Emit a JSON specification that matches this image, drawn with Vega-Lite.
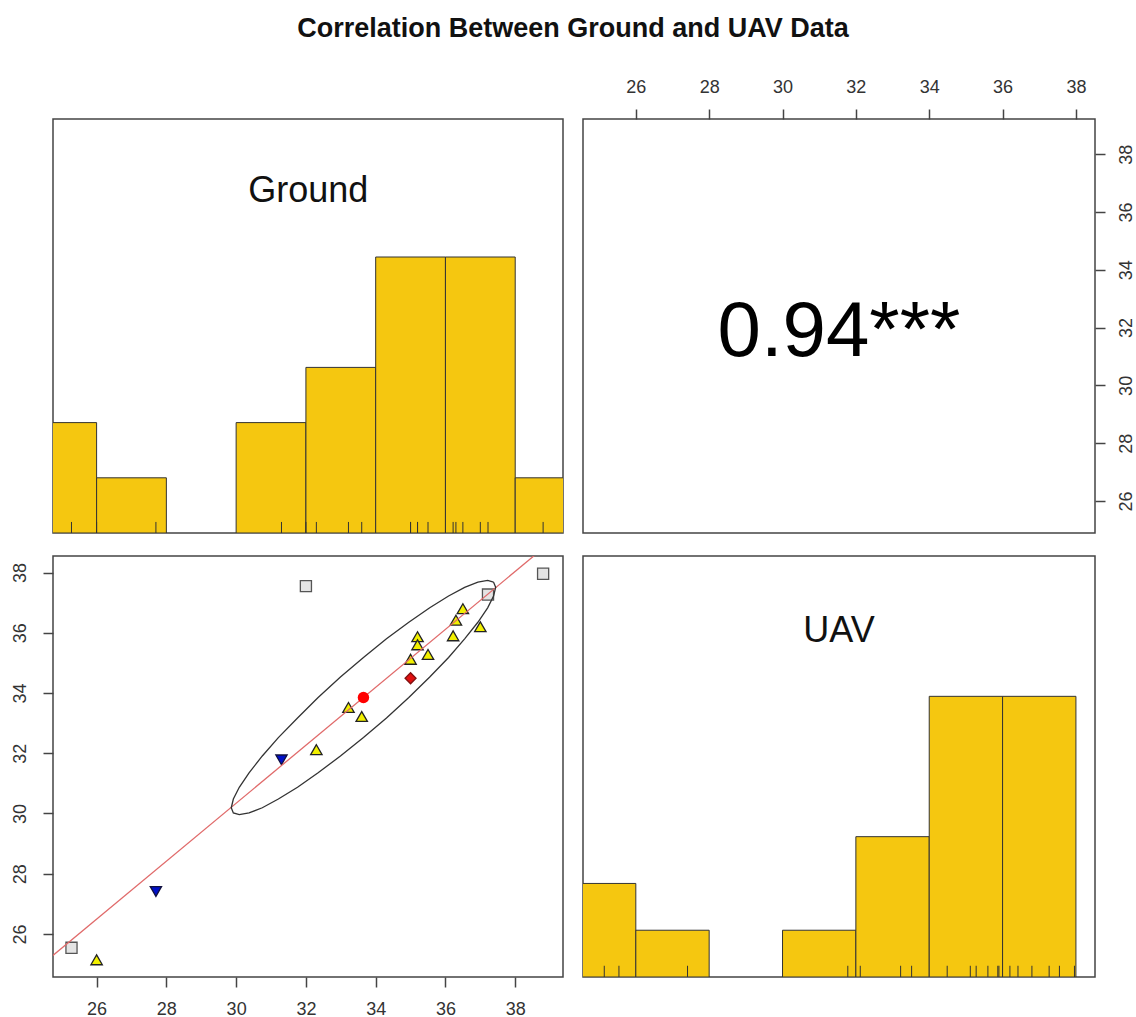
{
  "$schema": "https://vega.github.io/schema/vega-lite/v6.json",
  "background": "white",
  "padding": {"left": 10, "top": 15, "right": 2, "bottom": 2},
  "title": {"text": "Correlation Between Ground and UAV Data", "fontSize": 27, "fontWeight": "bold", "font": "Liberation Sans", "anchor": "middle", "color": "#111", "offset": 34},
  "datasets": {
    "pts": [
      {"Ground": 25.28, "UAV": 25.54, "grp": "sq"},
      {"Ground": 26.0, "UAV": 25.14, "grp": "tri"},
      {"Ground": 27.7, "UAV": 27.41, "grp": "down"},
      {"Ground": 32.0, "UAV": 37.55, "grp": "sq"},
      {"Ground": 38.8, "UAV": 37.96, "grp": "sq"},
      {"Ground": 37.22, "UAV": 37.27, "grp": "sq"},
      {"Ground": 31.3, "UAV": 31.78, "grp": "down"},
      {"Ground": 32.3, "UAV": 32.12, "grp": "tri"},
      {"Ground": 33.22, "UAV": 33.52, "grp": "tri"},
      {"Ground": 33.6, "UAV": 33.22, "grp": "tri"},
      {"Ground": 35.0, "UAV": 34.49, "grp": "dia"},
      {"Ground": 35.0, "UAV": 35.12, "grp": "tri"},
      {"Ground": 35.2, "UAV": 35.87, "grp": "tri"},
      {"Ground": 35.2, "UAV": 35.6, "grp": "tri"},
      {"Ground": 35.5, "UAV": 35.28, "grp": "tri"},
      {"Ground": 36.22, "UAV": 35.9, "grp": "tri"},
      {"Ground": 36.3, "UAV": 36.42, "grp": "tri"},
      {"Ground": 36.5, "UAV": 36.8, "grp": "tri"},
      {"Ground": 37.0, "UAV": 36.2, "grp": "tri"}
    ],
    "hg": [
      {"b0": 24, "b1": 26, "n": 2},
      {"b0": 26, "b1": 28, "n": 1},
      {"b0": 30, "b1": 32, "n": 2},
      {"b0": 32, "b1": 34, "n": 3},
      {"b0": 34, "b1": 36, "n": 5},
      {"b0": 36, "b1": 38, "n": 5},
      {"b0": 38, "b1": 40, "n": 1}
    ],
    "hu": [
      {"b0": 24, "b1": 26, "n": 2},
      {"b0": 26, "b1": 28, "n": 1},
      {"b0": 30, "b1": 32, "n": 1},
      {"b0": 32, "b1": 34, "n": 3},
      {"b0": 34, "b1": 36, "n": 6},
      {"b0": 36, "b1": 38, "n": 6}
    ],
    "ell": [
      {"i": 0, "ex": 37.38, "ey": 37.68}, {"i": 1, "ex": 37.21, "ey": 37.74}, {"i": 2, "ex": 36.93, "ey": 37.68},
      {"i": 3, "ex": 36.55, "ey": 37.51}, {"i": 4, "ex": 36.09, "ey": 37.22}, {"i": 5, "ex": 35.55, "ey": 36.83},
      {"i": 6, "ex": 34.95, "ey": 36.35}, {"i": 7, "ex": 34.31, "ey": 35.8}, {"i": 8, "ex": 33.65, "ey": 35.18},
      {"i": 9, "ex": 32.99, "ey": 34.53}, {"i": 10, "ex": 32.35, "ey": 33.85}, {"i": 11, "ex": 31.76, "ey": 33.17},
      {"i": 12, "ex": 31.21, "ey": 32.52}, {"i": 13, "ex": 30.75, "ey": 31.91}, {"i": 14, "ex": 30.37, "ey": 31.35},
      {"i": 15, "ex": 30.09, "ey": 30.87}, {"i": 16, "ex": 29.92, "ey": 30.48}, {"i": 17, "ex": 29.86, "ey": 30.19},
      {"i": 18, "ex": 29.92, "ey": 30.02}, {"i": 19, "ex": 30.09, "ey": 29.96}, {"i": 20, "ex": 30.37, "ey": 30.02},
      {"i": 21, "ex": 30.75, "ey": 30.19}, {"i": 22, "ex": 31.21, "ey": 30.48}, {"i": 23, "ex": 31.76, "ey": 30.87},
      {"i": 24, "ex": 32.35, "ey": 31.35}, {"i": 25, "ex": 32.99, "ey": 31.91}, {"i": 26, "ex": 33.65, "ey": 32.52},
      {"i": 27, "ex": 34.31, "ey": 33.17}, {"i": 28, "ex": 34.95, "ey": 33.85}, {"i": 29, "ex": 35.55, "ey": 34.53},
      {"i": 30, "ex": 36.09, "ey": 35.18}, {"i": 31, "ex": 36.55, "ey": 35.8}, {"i": 32, "ex": 36.93, "ey": 36.35},
      {"i": 33, "ex": 37.21, "ey": 36.83}, {"i": 34, "ex": 37.38, "ey": 37.22}, {"i": 35, "ex": 37.44, "ey": 37.51},
      {"i": 36, "ex": 37.38, "ey": 37.68}
    ]
  },
  "columns": 2,
  "spacing": {"row": 23, "column": 20},
  "bounds": "flush",
  "align": "each",
  "concat": [
    {
      "width": 510, "height": 414,
      "layer": [
        {
          "data": {"name": "hg"},
          "mark": {"type": "rect", "fill": "#F5C710", "stroke": "#333", "strokeWidth": 1, "clip": true},
          "encoding": {
            "x": {"field": "b0", "type": "quantitative", "scale": {"domain": [24.75, 39.37], "nice": false, "zero": false}, "axis": null},
            "x2": {"field": "b1"},
            "y": {"field": "n", "type": "quantitative", "scale": {"domain": [0, 7.5], "nice": false, "zero": false}, "axis": null},
            "y2": {"datum": 0}
          }
        },
        {
          "data": {"name": "pts"},
          "mark": {"type": "rule", "stroke": "#333", "strokeWidth": 1},
          "encoding": {
            "x": {"field": "Ground", "type": "quantitative"},
            "y": {"datum": 0},
            "y2": {"datum": 0.2}
          }
        },
        {
          "data": {"values": [{"lab": "Ground"}]},
          "mark": {"type": "text", "fontSize": 36, "font": "Liberation Sans", "color": "#111", "baseline": "middle", "align": "center"},
          "encoding": {
            "text": {"field": "lab"},
            "x": {"datum": 32.07},
            "y": {"datum": 6.2}
          }
        }
      ]
    },
    {
      "width": 512, "height": 414,
      "layer": [
        {
          "data": {"values": [{"lab": "0.94***"}]},
          "mark": {"type": "text", "fontSize": 78, "font": "Liberation Sans", "color": "#000", "baseline": "middle", "align": "center"},
          "encoding": {
            "text": {"field": "lab"},
            "x": {"datum": 31.54, "type": "quantitative", "scale": {"domain": [24.56, 38.52], "nice": false, "zero": false},
                  "axis": {"orient": "top", "values": [26, 28, 30, 32, 34, 36, 38], "title": null}},
            "y": {"datum": 31.8, "type": "quantitative", "scale": {"domain": [24.89, 39.22], "nice": false, "zero": false},
                  "axis": {"orient": "right", "values": [26, 28, 30, 32, 34, 36, 38], "title": null, "labelAngle": -90, "labelAlign": "center", "labelBaseline": "top", "labelPadding": 12}}
          }
        }
      ]
    },
    {
      "width": 510, "height": 421,
      "layer": [
        {
          "data": {"name": "pts"},
          "mark": {"type": "point", "filled": true, "opacity": 1, "strokeWidth": 1.3},
          "encoding": {
            "x": {"field": "Ground", "type": "quantitative", "scale": {"domain": [24.75, 39.37], "nice": false, "zero": false},
                  "axis": {"orient": "bottom", "values": [26, 28, 30, 32, 34, 36, 38], "title": null}},
            "y": {"field": "UAV", "type": "quantitative", "scale": {"domain": [24.57, 38.55], "nice": false, "zero": false},
                  "axis": {"orient": "left", "values": [26, 28, 30, 32, 34, 36, 38], "title": null, "labelAngle": -90, "labelAlign": "center", "labelBaseline": "bottom", "labelPadding": 14}},
            "shape": {"field": "grp", "type": "nominal", "scale": {"domain": ["tri", "down", "sq", "dia"], "range": ["triangle-up", "triangle-down", "square", "diamond"]}, "legend": null},
            "color": {"field": "grp", "type": "nominal", "scale": {"domain": ["tri", "down", "sq", "dia"], "range": ["#f2f000", "#0010c8", "#e4e4e4", "#e01010"]}, "legend": null},
            "stroke": {"field": "grp", "type": "nominal", "scale": {"domain": ["tri", "down", "sq", "dia"], "range": ["#222222", "#101040", "#555555", "#801010"]}, "legend": null},
            "size": {"field": "grp", "type": "nominal", "scale": {"domain": ["tri", "down", "sq", "dia"], "range": [130, 120, 40, 60]}, "legend": null}
          }
        },
        {
          "data": {"name": "pts"},
          "transform": [{"regression": "UAV", "on": "Ground", "extent": [24, 40]}],
          "mark": {"type": "line", "stroke": "#e06a6a", "strokeWidth": 1.3, "clip": true},
          "encoding": {
            "x": {"field": "Ground", "type": "quantitative"},
            "y": {"field": "UAV", "type": "quantitative"}
          }
        },
        {
          "data": {"name": "ell"},
          "mark": {"type": "line", "stroke": "#333", "strokeWidth": 1.3},
          "encoding": {
            "x": {"field": "ex", "type": "quantitative"},
            "y": {"field": "ey", "type": "quantitative"},
            "order": {"field": "i", "type": "quantitative"}
          }
        },
        {
          "data": {"name": "pts"},
          "transform": [{"aggregate": [{"op": "mean", "field": "Ground", "as": "Ground"}, {"op": "mean", "field": "UAV", "as": "UAV"}]}],
          "mark": {"type": "circle", "color": "#ff0000", "size": 130, "opacity": 1},
          "encoding": {
            "x": {"field": "Ground", "type": "quantitative"},
            "y": {"field": "UAV", "type": "quantitative"}
          }
        }
      ]
    },
    {
      "width": 512, "height": 421,
      "layer": [
        {
          "data": {"name": "hu"},
          "mark": {"type": "rect", "fill": "#F5C710", "stroke": "#333", "strokeWidth": 1, "clip": true},
          "encoding": {
            "x": {"field": "b0", "type": "quantitative", "scale": {"domain": [24.56, 38.52], "nice": false, "zero": false}, "axis": null},
            "x2": {"field": "b1"},
            "y": {"field": "n", "type": "quantitative", "scale": {"domain": [0, 9], "nice": false, "zero": false}, "axis": null},
            "y2": {"datum": 0}
          }
        },
        {
          "data": {"name": "pts"},
          "mark": {"type": "rule", "stroke": "#333", "strokeWidth": 1},
          "encoding": {
            "x": {"field": "UAV", "type": "quantitative"},
            "y": {"datum": 0},
            "y2": {"datum": 0.24}
          }
        },
        {
          "data": {"values": [{"lab": "UAV"}]},
          "mark": {"type": "text", "fontSize": 36, "font": "Liberation Sans", "color": "#111", "baseline": "middle", "align": "center"},
          "encoding": {
            "text": {"field": "lab"},
            "x": {"datum": 31.54},
            "y": {"datum": 7.4}
          }
        }
      ]
    }
  ],
  "config": {
    "font": "Liberation Sans",
    "view": {"stroke": "#444", "strokeWidth": 1.5},
    "axis": {"domain": false, "grid": false, "tickSize": 10, "tickColor": "#444", "tickWidth": 1.5, "labelFont": "Liberation Sans", "labelFontSize": 18, "labelColor": "#333", "labelPadding": 13, "labelFlush": false, "labelOverlap": false}
  }
}
